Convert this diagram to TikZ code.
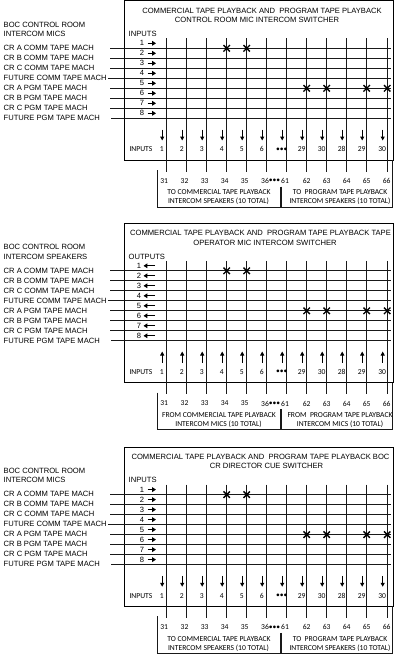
\documentclass[tikz,border=0pt]{standalone}
\usepackage{fontspec}
\setmainfont{Liberation Sans}
\newfontfamily\calfont{Carlito}
\usetikzlibrary{arrows.meta}
\tikzset{
  lbl/.style={inner sep=0pt, font=\fontsize{7.6}{9}\selectfont},
  clbl/.style={inner sep=0pt, font=\calfont\fontsize{7.6}{9}\selectfont},
  wire/.style={line width=0.75pt, black!90},
  frame/.style={line width=0.9pt, black},
  xmark/.style={line width=1.4pt, black},
  sarrow/.style={line width=1.1pt, -{Triangle[length=3.8pt,width=4.6pt]}},
  barrow/.style={line width=1.1pt, -{Triangle[length=4pt,width=4pt]}},
}
\newcommand\mypanel[2]{%
\begin{scope}[shift={(0,#2)}]
  \draw[frame] (124,0.8) rectangle (393,160);
  \node[lbl] (#1t1) at (\cA,10.5) {\tA};
  \node[lbl] (#1t2) at (\cB,20) {\tB};
  \node[lbl,anchor=west] (#1h1) at (3.5,24.5) {BOC CONTROL ROOM};
  \node[lbl,anchor=west] (#1h2) at (3.5,34) {\hdr};
  \node[lbl,anchor=west] (#1io) at (128.5,34) {\io};
  % columns
  \foreach \j in {1,...,12}{
    \pgfmathsetmacro\xx{166.7+20*(\j-1)+0.5*(\j==12)}
    \coordinate (#1ct\j) at (\xx,38.3);
    \coordinate (#1cb\j) at (\xx,171.7);
    \draw[wire] (#1ct\j) -- (#1cb\j);
    \coordinate (#1as\j) at (\xx-4.5,\bas);
    \coordinate (#1ae\j) at (\xx-4.5,\bae);
    \draw[barrow] (#1as\j) -- (#1ae\j);
  }
  % rows
  \foreach \i/\nm/\ws in {1/CR A COMM TAPE MACH/110,2/CR B COMM TAPE MACH/110,3/CR C COMM TAPE MACH/110,4/FUTURE COMM TAPE MACH/107.8,5/CR A PGM TAPE MACH/110,6/CR B PGM TAPE MACH/110,7/CR C PGM TAPE MACH/110,8/FUTURE PGM TAPE MACH/111}{
    \pgfmathsetmacro\yy{48.3+10*(\i-1)}
    \node[lbl,anchor=west] (#1L\i) at (3.5,\yy-0.4) {\nm};
    \coordinate (#1ws\i) at (\ws,\yy);
    \coordinate (#1we\i) at (391,\yy);
    \draw[wire] (#1ws\i) -- (#1we\i);
    \node[lbl] (#1n\i) at (\rdx,\yy-5) {\i};
    \coordinate (#1rs\i) at (\ras,\yy-5);
    \coordinate (#1re\i) at (\rae,\yy-5);
    \draw[sarrow] (#1rs\i) -- (#1re\i);
  }
  % crosspoints
  \foreach \j/\r in {4/1,5/1,8/5,9/5,11/5,12/5}{
    \pgfmathsetmacro\xx{166.7+20*(\j-1)+0.5*(\j==12)}
    \pgfmathsetmacro\yy{48.3+10*(\r-1)}
    \draw[xmark] (\xx-3.2,\yy-3.2) -- (\xx+3.2,\yy+3.2);
    \draw[xmark] (\xx-3.2,\yy+3.2) -- (\xx+3.2,\yy-3.2);
  }
  % bottom compartment labels
  \node[clbl,anchor=west] (#1bin) at (129.3,149.3) {INPUTS};
  \foreach \j/\t in {1/1,2/2,3/3,4/4,5/5,6/6,7/•••,8/29,9/30,10/28,11/29,12/30}{
    \pgfmathsetmacro\xx{166.7+20*(\j-1)+0.5*(\j==12)}
    \node[clbl] (#1bl\j) at (\xx-5,149.3) {\t};
  }
  % numbers below
  \foreach \xx/\t in {164.2/31,184.5/32,204.7/33,224.7/34,244.7/35,265/36,274.6/•••,285/61,306.7/62,326.7/63,346.7/64,366.7/65,386.7/66}{
    \node[clbl] at (\xx,181) {\t};
  }
  % brackets
  \coordinate (#1ba) at (157,170);
  \coordinate (#1bb) at (157,207);
  \coordinate (#1bc) at (280,207);
  \coordinate (#1bd) at (280,186.5);
  \draw[wire] (#1ba) -- (#1bb) -- (#1bc) -- (#1bd);
  \coordinate (#1be) at (281.8,186.5);
  \coordinate (#1bf) at (281.8,207);
  \coordinate (#1bg) at (392.5,207);
  \coordinate (#1bh) at (392.5,160);
  \draw[wire] (#1be) -- (#1bf) -- (#1bg) -- (#1bh);
  \node[clbl] (#1k1) at (219,192.3) {\kA};
  \node[clbl] (#1k2) at (218.5,201.5) {\kB};
  \node[clbl] (#1k3) at (340,192.3) {\kC};
  \node[clbl] (#1k4) at (340,201.5) {\kB};
\end{scope}}
\begin{document}
\begin{tikzpicture}[x=1pt,y=-1pt]
\useasboundingbox (0,0) rectangle (400,657);
% panel 1
\def\tA{COMMERCIAL TAPE PLAYBACK AND \ PROGRAM TAPE PLAYBACK}\def\cA{262}
\def\tB{CONTROL ROOM MIC INTERCOM SWITCHER}\def\cB{257}
\def\hdr{INTERCOM MICS}\def\io{INPUTS}
\def\rdx{142}\def\ras{147.5}\def\rae{156}
\def\bas{129.5}\def\bae{140.5}
\def\kA{TO COMMERCIAL TAPE PLAYBACK}\def\kB{INTERCOM SPEAKERS (10 TOTAL)}\def\kC{TO \ PROGRAM TAPE PLAYBACK}
\mypanel{a}{0}
% panel 2
\def\tA{COMMERCIAL TAPE PLAYBACK AND \ PROGRAM TAPE PLAYBACK TAPE}\def\cA{260.5}
\def\tB{OPERATOR MIC INTERCOM SWITCHER}\def\cB{265}
\def\hdr{INTERCOM SPEAKERS}\def\io{OUTPUTS}
\def\rdx{139}\def\ras{155}\def\rae{143.5}
\def\bas{140}\def\bae{129}
\def\kA{FROM COMMERCIAL TAPE PLAYBACK}\def\kB{INTERCOM MICS (10 TOTAL)}\def\kC{FROM \ PROGRAM TAPE PLAYBACK}
\mypanel{b}{222.5}
% panel 3
\def\tA{COMMERCIAL TAPE PLAYBACK AND \ PROGRAM TAPE PLAYBACK BOC}\def\cA{260.5}
\def\tB{CR DIRECTOR CUE SWITCHER}\def\cB{266.5}
\def\hdr{INTERCOM MICS}\def\io{INPUTS}
\def\rdx{142}\def\ras{147.5}\def\rae{156}
\def\bas{129.5}\def\bae{140.5}
\def\kA{TO COMMERCIAL TAPE PLAYBACK}\def\kB{INTERCOM SPEAKERS (10 TOTAL)}\def\kC{TO \ PROGRAM TAPE PLAYBACK}
\mypanel{c}{446.3}
\end{tikzpicture}
\end{document}
